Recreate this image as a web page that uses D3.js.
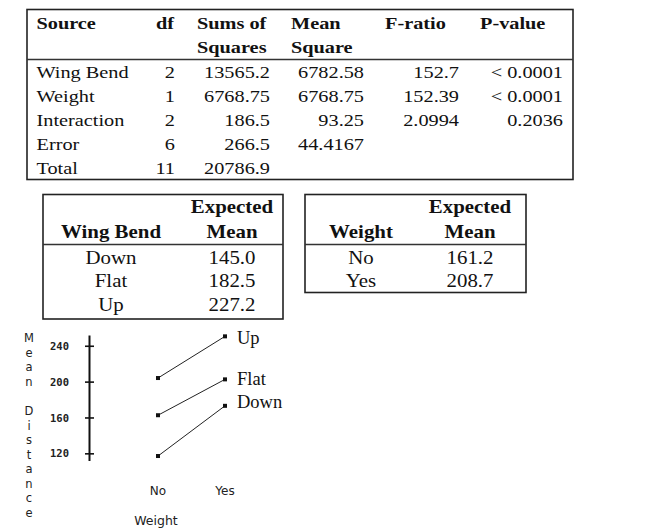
<!DOCTYPE html>
<html>
<head>
<meta charset="utf-8">
<script src="https://cdn.jsdelivr.net/npm/d3@7"></script>
<style>
  body { margin: 0; background: #fff; }
  svg { display: block; }
</style>
</head>
<body>
<svg id="board" width="650" height="530"></svg>
<script>
// ANOVA table
const anovaHeader1 = ["Source", "df", "Sums of", "Mean", "F-ratio", "P-value"];
const anovaHeader2 = ["", "", "Squares", "Square", "", ""];
const sources = ["Wing Bend", "Weight", "Interaction", "Error", "Total"];
const dfs = ["2", "1", "2", "6", "11"];
const sumsSq = ["13565.2", "6768.75", "186.5", "266.5", "20786.9"];
const meanSq = ["6782.58", "6768.75", "93.25", "44.4167", ""];
const fRatios = ["152.7", "152.39", "2.0994", "", ""];
const pValues = ["< 0.0001", "< 0.0001", "0.2036", "", ""];

// expected means
const wingBends = ["Down", "Flat", "Up"];
const wingMeans = ["145.0", "182.5", "227.2"];
const weightLevels = ["No", "Yes"];
const weightMeans = ["161.2", "208.7"];

// interaction plot
const yTicks = [120, 160, 200, 240];
const seriesNames = ["Up", "Flat", "Down"];
const upMeans = [204, 250.5];
const flatMeans = [162.5, 202.5];
const downMeans = [117, 173];

const board = d3.select("#board");
const serif = "'Liberation Serif', 'Times New Roman', serif";
const ink = "#111";

// text is a bit wider than the font, so stretch it a little
function txt(g, x, y, str, opts) {
    opts = opts || {};
    return g.append("text")
        .attr("transform", `translate(${x},${y}) scale(${opts.sx || 1},1)`)
        .attr("text-anchor", opts.anchor || "start")
        .attr("font-family", opts.family || serif)
        .attr("font-size", opts.size || 17.5)
        .attr("font-weight", opts.bold ? "bold" : "normal")
        .attr("fill", ink)
        .text(str);
}

function box(x0, y0, x1, y1, ySep) {
    board.append("rect")
        .attr("x", x0).attr("y", y0)
        .attr("width", x1 - x0).attr("height", y1 - y0)
        .attr("fill", "none").attr("stroke", "#222").attr("stroke-width", 1.6);
    board.append("line")
        .attr("x1", x0).attr("x2", x1).attr("y1", ySep).attr("y2", ySep)
        .attr("stroke", "#333").attr("stroke-width", 1.3);
}

// ---- ANOVA table ----
box(27, 9.5, 573, 179.5, 59.5);
const anovaG = board.append("g");
const sx1 = 1.16;
const cols = [
    { x: 36.5, anchor: "start", hx: 36.5, hAnchor: "start", vals: sources },
    { x: 175, anchor: "end", hx: 174, hAnchor: "end", vals: dfs },
    { x: 270, anchor: "end", hx: 197, hAnchor: "start", vals: sumsSq },
    { x: 364, anchor: "end", hx: 291, hAnchor: "start", vals: meanSq },
    { x: 459, anchor: "end", hx: 385, hAnchor: "start", vals: fRatios },
    { x: 563, anchor: "end", hx: 480, hAnchor: "start", vals: pValues }
];
const rowY = d3.scaleLinear().domain([0, sources.length - 1]).range([77.5, 173.5]);

cols.forEach((c, i) => {
    txt(anovaG, c.hx, 29, anovaHeader1[i], { bold: true, anchor: c.hAnchor, sx: sx1 });
    if (anovaHeader2[i]) txt(anovaG, c.hx, 53, anovaHeader2[i], { bold: true, anchor: c.hAnchor, sx: sx1 });
    c.vals.forEach((v, r) => {
        if (v) txt(anovaG, c.x, rowY(r), v, { anchor: c.anchor, sx: sx1 });
    });
});

// ---- expected mean tables ----
function meansTable(x0, x1, c1, c2, title, levels, means, yBottom) {
    box(x0, 194.5, x1, yBottom, 244.5);
    const g = board.append("g");
    const sx2 = 1.13;
    txt(g, c2, 213, "Expected", { bold: true, anchor: "middle", size: 18.5, sx: sx2 });
    txt(g, c2, 238, "Mean", { bold: true, anchor: "middle", size: 18.5, sx: sx2 });
    txt(g, c1, 238, title, { bold: true, anchor: "middle", size: 18.5, sx: sx2 });
    const y = d3.scaleLinear().domain([0, 1]).range([263.5, 287]);
    levels.forEach((lv, i) => {
        txt(g, c1, y(i), lv, { anchor: "middle", size: 18.5, sx: sx2 });
        txt(g, c2, y(i), means[i], { anchor: "middle", size: 18.5, sx: sx2 });
    });
}
meansTable(43, 283, 111, 232, "Wing Bend", wingBends, wingMeans, 319);
meansTable(305, 526, 361, 470, "Weight", weightLevels, weightMeans, 292.5);

// ---- interaction plot ----
const x = d3.scalePoint().domain(weightLevels).range([158, 225]);
const y = d3.scaleLinear().domain([112, 252]).range([460.5, 335]);

const axis = board.append("g")
    .attr("transform", "translate(89,0)")
    .call(d3.axisLeft(y).tickValues(yTicks).tickSizeInner(4).tickSizeOuter(0).tickPadding(16));
axis.select(".domain").attr("stroke", ink).attr("stroke-width", 2);
axis.selectAll(".tick line").attr("x1", -4).attr("x2", 5).attr("stroke", ink).attr("stroke-width", 1.6);
axis.selectAll(".tick text")
    .attr("font-family", "'DejaVu Sans Mono', monospace")
    .attr("font-size", 10.5)
    .attr("font-weight", "bold")
    .attr("fill", "#222")
    .attr("dy", "0.34em");

const series = [upMeans, flatMeans, downMeans];
const labelShift = [2, 0, -4];
const line = d3.line().x((d, i) => x(weightLevels[i])).y(d => y(d));

series.forEach((vals, s) => {
    board.append("path")
        .attr("d", line(vals))
        .attr("fill", "none")
        .attr("stroke", "#222")
        .attr("stroke-width", 1);
    board.selectAll(null)
        .data(vals)
        .join("rect")
        .attr("x", (d, i) => x(weightLevels[i]) - 2)
        .attr("y", d => y(d) - 2)
        .attr("width", 4)
        .attr("height", 4)
        .attr("fill", "#111");
    board.append("text")
        .attr("x", x("Yes") + 12)
        .attr("y", y(vals[1]) + labelShift[s])
        .attr("dominant-baseline", "central")
        .attr("font-family", serif)
        .attr("font-size", 18.5)
        .attr("fill", ink)
        .text(seriesNames[s]);
});

const sans = "'DejaVu Sans', sans-serif";
weightLevels.forEach(w => {
    board.append("text")
        .attr("x", x(w))
        .attr("y", 495)
        .attr("text-anchor", "middle")
        .attr("font-family", sans)
        .attr("font-size", 12)
        .attr("fill", "#222")
        .text(w);
});
board.append("text")
    .attr("x", 156)
    .attr("y", 525)
    .attr("text-anchor", "middle")
    .attr("font-family", sans)
    .attr("font-size", 12.5)
    .attr("fill", "#222")
    .text("Weight");

// stacked vertical axis title
const title = "Mean Distance".split("");
const ty = d3.scaleLinear().domain([0, title.length - 1]).range([338, 513]);
board.selectAll(null)
    .data(title)
    .join("text")
    .attr("x", 29)
    .attr("y", (d, i) => ty(i))
    .attr("text-anchor", "middle")
    .attr("dominant-baseline", "central")
    .attr("font-family", sans)
    .attr("font-size", 11.5)
    .attr("fill", "#222")
    .text(d => d);
</script>
</body>
</html>
